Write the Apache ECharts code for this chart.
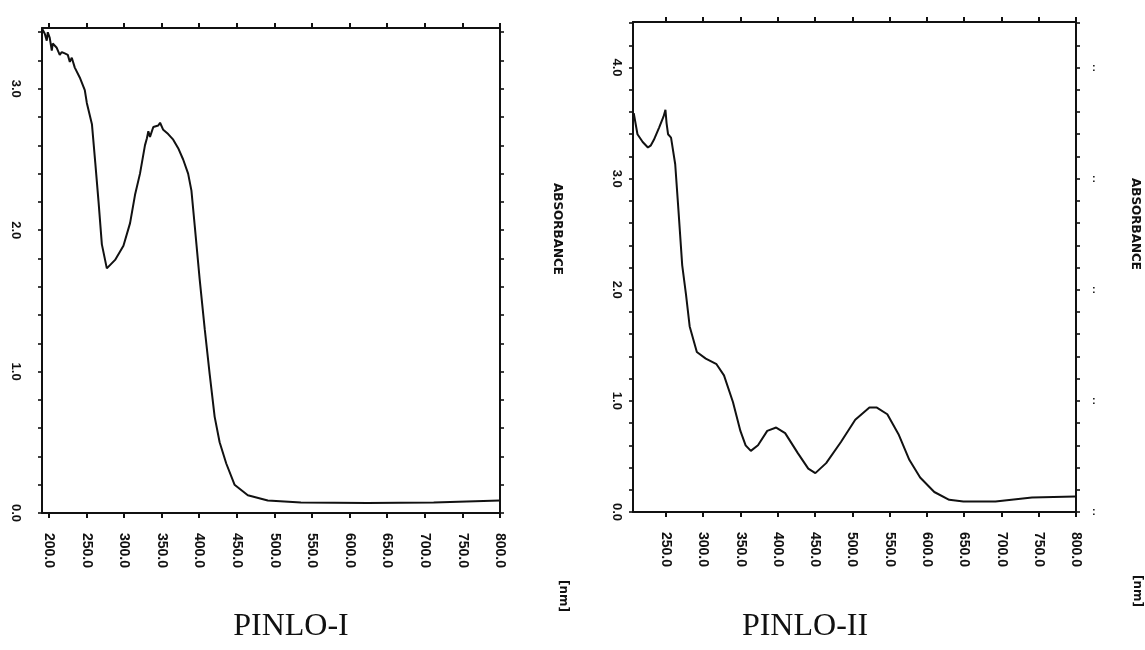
<!DOCTYPE html>
<html>
<head>
<meta charset="utf-8">
<script src="https://cdn.jsdelivr.net/npm/echarts@6/dist/echarts.min.js"></script>
<style>
html,body{margin:0;padding:0;background:#fff;}
#chart{width:1145px;height:650px;}
</style>
</head>
<body>
<div id="chart"></div>
<script>
// ---- PINLO-I spectrum (wavelength nm, absorbance) ----
const pinlo1Nm  = [190.7,194.7,197.3,198.7,201.3,204,205.3,210.6,214.6,217.3,221.3,225.3,228,230.6,234.6,241.2,247.9,250.6,257.4,261.8,266.2,270.6,277.2,288.2,299.3,308.1,314.7,321.3,327.9,330.5,332.4,334.6,339,345.6,348,352.2,358.8,365.5,372.1,378.7,385.3,389.7,394.1,400.7,407.4,414,420.6,427.2,436,447,464.7,491.2,535.3,623.5,711.8,800];
const pinlo1Abs = [3.43,3.39,3.34,3.40,3.36,3.27,3.32,3.29,3.24,3.26,3.25,3.24,3.19,3.22,3.15,3.08,2.99,2.90,2.75,2.48,2.20,1.90,1.73,1.79,1.89,2.05,2.25,2.40,2.60,2.65,2.70,2.66,2.73,2.74,2.76,2.71,2.68,2.64,2.58,2.50,2.40,2.28,2.03,1.65,1.30,0.98,0.68,0.50,0.35,0.20,0.125,0.088,0.075,0.07,0.075,0.088];

// ---- PINLO-II spectrum ----
const pinlo2Nm  = [207,212,219,226,230,234,241,247,249.5,251,253,257,262.6,267,272,277,282,291.6,303.6,318,328,340,350,357,364,373.6,386,398,410,427,441,450.5,465,484.8,504,523,533,547,562,576.5,591,610,630,649,692,741,799];
const pinlo2Abs = [3.59,3.40,3.33,3.28,3.30,3.35,3.46,3.56,3.62,3.50,3.40,3.37,3.13,2.71,2.22,1.96,1.67,1.44,1.38,1.33,1.23,0.99,0.73,0.60,0.55,0.60,0.73,0.76,0.71,0.53,0.39,0.35,0.44,0.63,0.83,0.94,0.94,0.88,0.70,0.47,0.31,0.18,0.11,0.095,0.095,0.13,0.14];

// ---- tick labels ----
const xTicks1 = [200,250,300,350,400,450,500,550,600,650,700,750,800];
const xTicks2 = [250,300,350,400,450,500,550,600,650,700,750,800];
const yLabels1 = [0,1,2,3];
const yLabels2 = [0,1,2,3,4];
const yMinor1 = [0,0.2,0.4,0.6,0.8,1,1.2,1.4,1.6,1.8,2,2.2,2.4,2.6,2.8,3,3.2,3.4];
const yMinor2 = [0,0.2,0.4,0.6,0.8,1,1.2,1.4,1.6,1.8,2,2.2,2.4,2.6,2.8,3,3.2,3.4,3.6,3.8,4,4.2,4.4];
const titles = ['PINLO-I','PINLO-II'];
const yName = 'ABSORBANCE';
const xUnit = '[nm]';

const ink = '#111';
const axisLineStyle = {color: ink, width: 2};
const labelFont = {color: ink, fontFamily: 'Liberation Sans', fontWeight: 'bold', fontSize: 14};

function xAxes(grid, min, ticks, pos, showLabel) {
  return {
    gridIndex: grid, type: 'value', min: min, max: 800, position: pos,
    axisLine: {show: true, onZero: false, lineStyle: axisLineStyle},
    axisTick: {show: true, customValues: ticks, length: 5, lineStyle: axisLineStyle},
    axisLabel: showLabel ? Object.assign({show: true, customValues: ticks, rotate: -90, margin: 20,
      formatter: v => Number(v).toFixed(1)}, labelFont) : {show: false},
    splitLine: {show: false}
  };
}
function yAxes(grid, max, labels, minor, pos, showLabel, margin, dots) {
  let lbl = {show: false};
  if (showLabel) {
    lbl = Object.assign({show: true, customValues: labels, rotate: -90, margin: margin,
      formatter: v => Number(v).toFixed(1)}, labelFont, {fontSize: 13});
  } else if (dots) {
    lbl = {show: true, customValues: labels, margin: 16, formatter: () => ':', color: ink, fontSize: 11, fontWeight: 'bold', fontFamily: 'Liberation Sans'};
  }
  return {
    gridIndex: grid, type: 'value', min: 0, max: max, position: pos,
    axisLine: {show: true, onZero: false, lineStyle: axisLineStyle},
    axisTick: {show: true, customValues: minor, length: 4, lineStyle: {color: ink, width: 1.6}},
    axisLabel: lbl,
    splitLine: {show: false}
  };
}

const chart = echarts.init(document.getElementById('chart'), null, {renderer: 'canvas'});
chart.setOption({
  backgroundColor: '#fff',
  animation: false,
  grid: [
    {left: 42, top: 28, width: 458, height: 485},
    {left: 633, top: 22, width: 443, height: 490}
  ],
  xAxis: [
    xAxes(0, 191, xTicks1, 'bottom', true),
    xAxes(0, 191, xTicks1, 'top', false),
    xAxes(1, 206, xTicks2, 'bottom', true),
    xAxes(1, 206, xTicks2, 'top', false)
  ],
  yAxis: [
    yAxes(0, 3.43, yLabels1, yMinor1, 'left', true, 20, false),
    yAxes(0, 3.43, yLabels1, yMinor1, 'right', false, 0, false),
    yAxes(1, 4.41, yLabels2, yMinor2, 'left', true, 10, false),
    yAxes(1, 4.41, yLabels2, yMinor2, 'right', false, 0, true)
  ],
  series: [
    {type: 'line', xAxisIndex: 0, yAxisIndex: 0, showSymbol: false, smooth: false,
     lineStyle: {color: ink, width: 2}, data: pinlo1Nm.map((x, i) => [x, pinlo1Abs[i]])},
    {type: 'line', xAxisIndex: 2, yAxisIndex: 2, showSymbol: false, smooth: false,
     lineStyle: {color: ink, width: 2}, data: pinlo2Nm.map((x, i) => [x, pinlo2Abs[i]])}
  ],
  graphic: [
    {type: 'text', x: 557, y: 229, rotation: -Math.PI / 2,
     style: {text: yName, textAlign: 'center', textVerticalAlign: 'middle', fill: ink, font: 'bold 12px "DejaVu Sans"'}},
    {type: 'text', x: 1135, y: 224, rotation: -Math.PI / 2,
     style: {text: yName, textAlign: 'center', textVerticalAlign: 'middle', fill: ink, font: 'bold 12px "DejaVu Sans"'}},
    {type: 'text', x: 563, y: 596, rotation: -Math.PI / 2,
     style: {text: xUnit, textAlign: 'center', textVerticalAlign: 'middle', fill: ink, font: 'bold 12px "DejaVu Sans"'}},
    {type: 'text', x: 1137, y: 591, rotation: -Math.PI / 2,
     style: {text: xUnit, textAlign: 'center', textVerticalAlign: 'middle', fill: ink, font: 'bold 12px "DejaVu Sans"'}},
    {type: 'text', x: 291, y: 627,
     style: {text: titles[0], textAlign: 'center', textVerticalAlign: 'middle', fill: ink, font: '32px "Liberation Serif"'}},
    {type: 'text', x: 805, y: 627,
     style: {text: titles[1], textAlign: 'center', textVerticalAlign: 'middle', fill: ink, font: '32px "Liberation Serif"'}}
  ]
});
</script>
</body>
</html>
